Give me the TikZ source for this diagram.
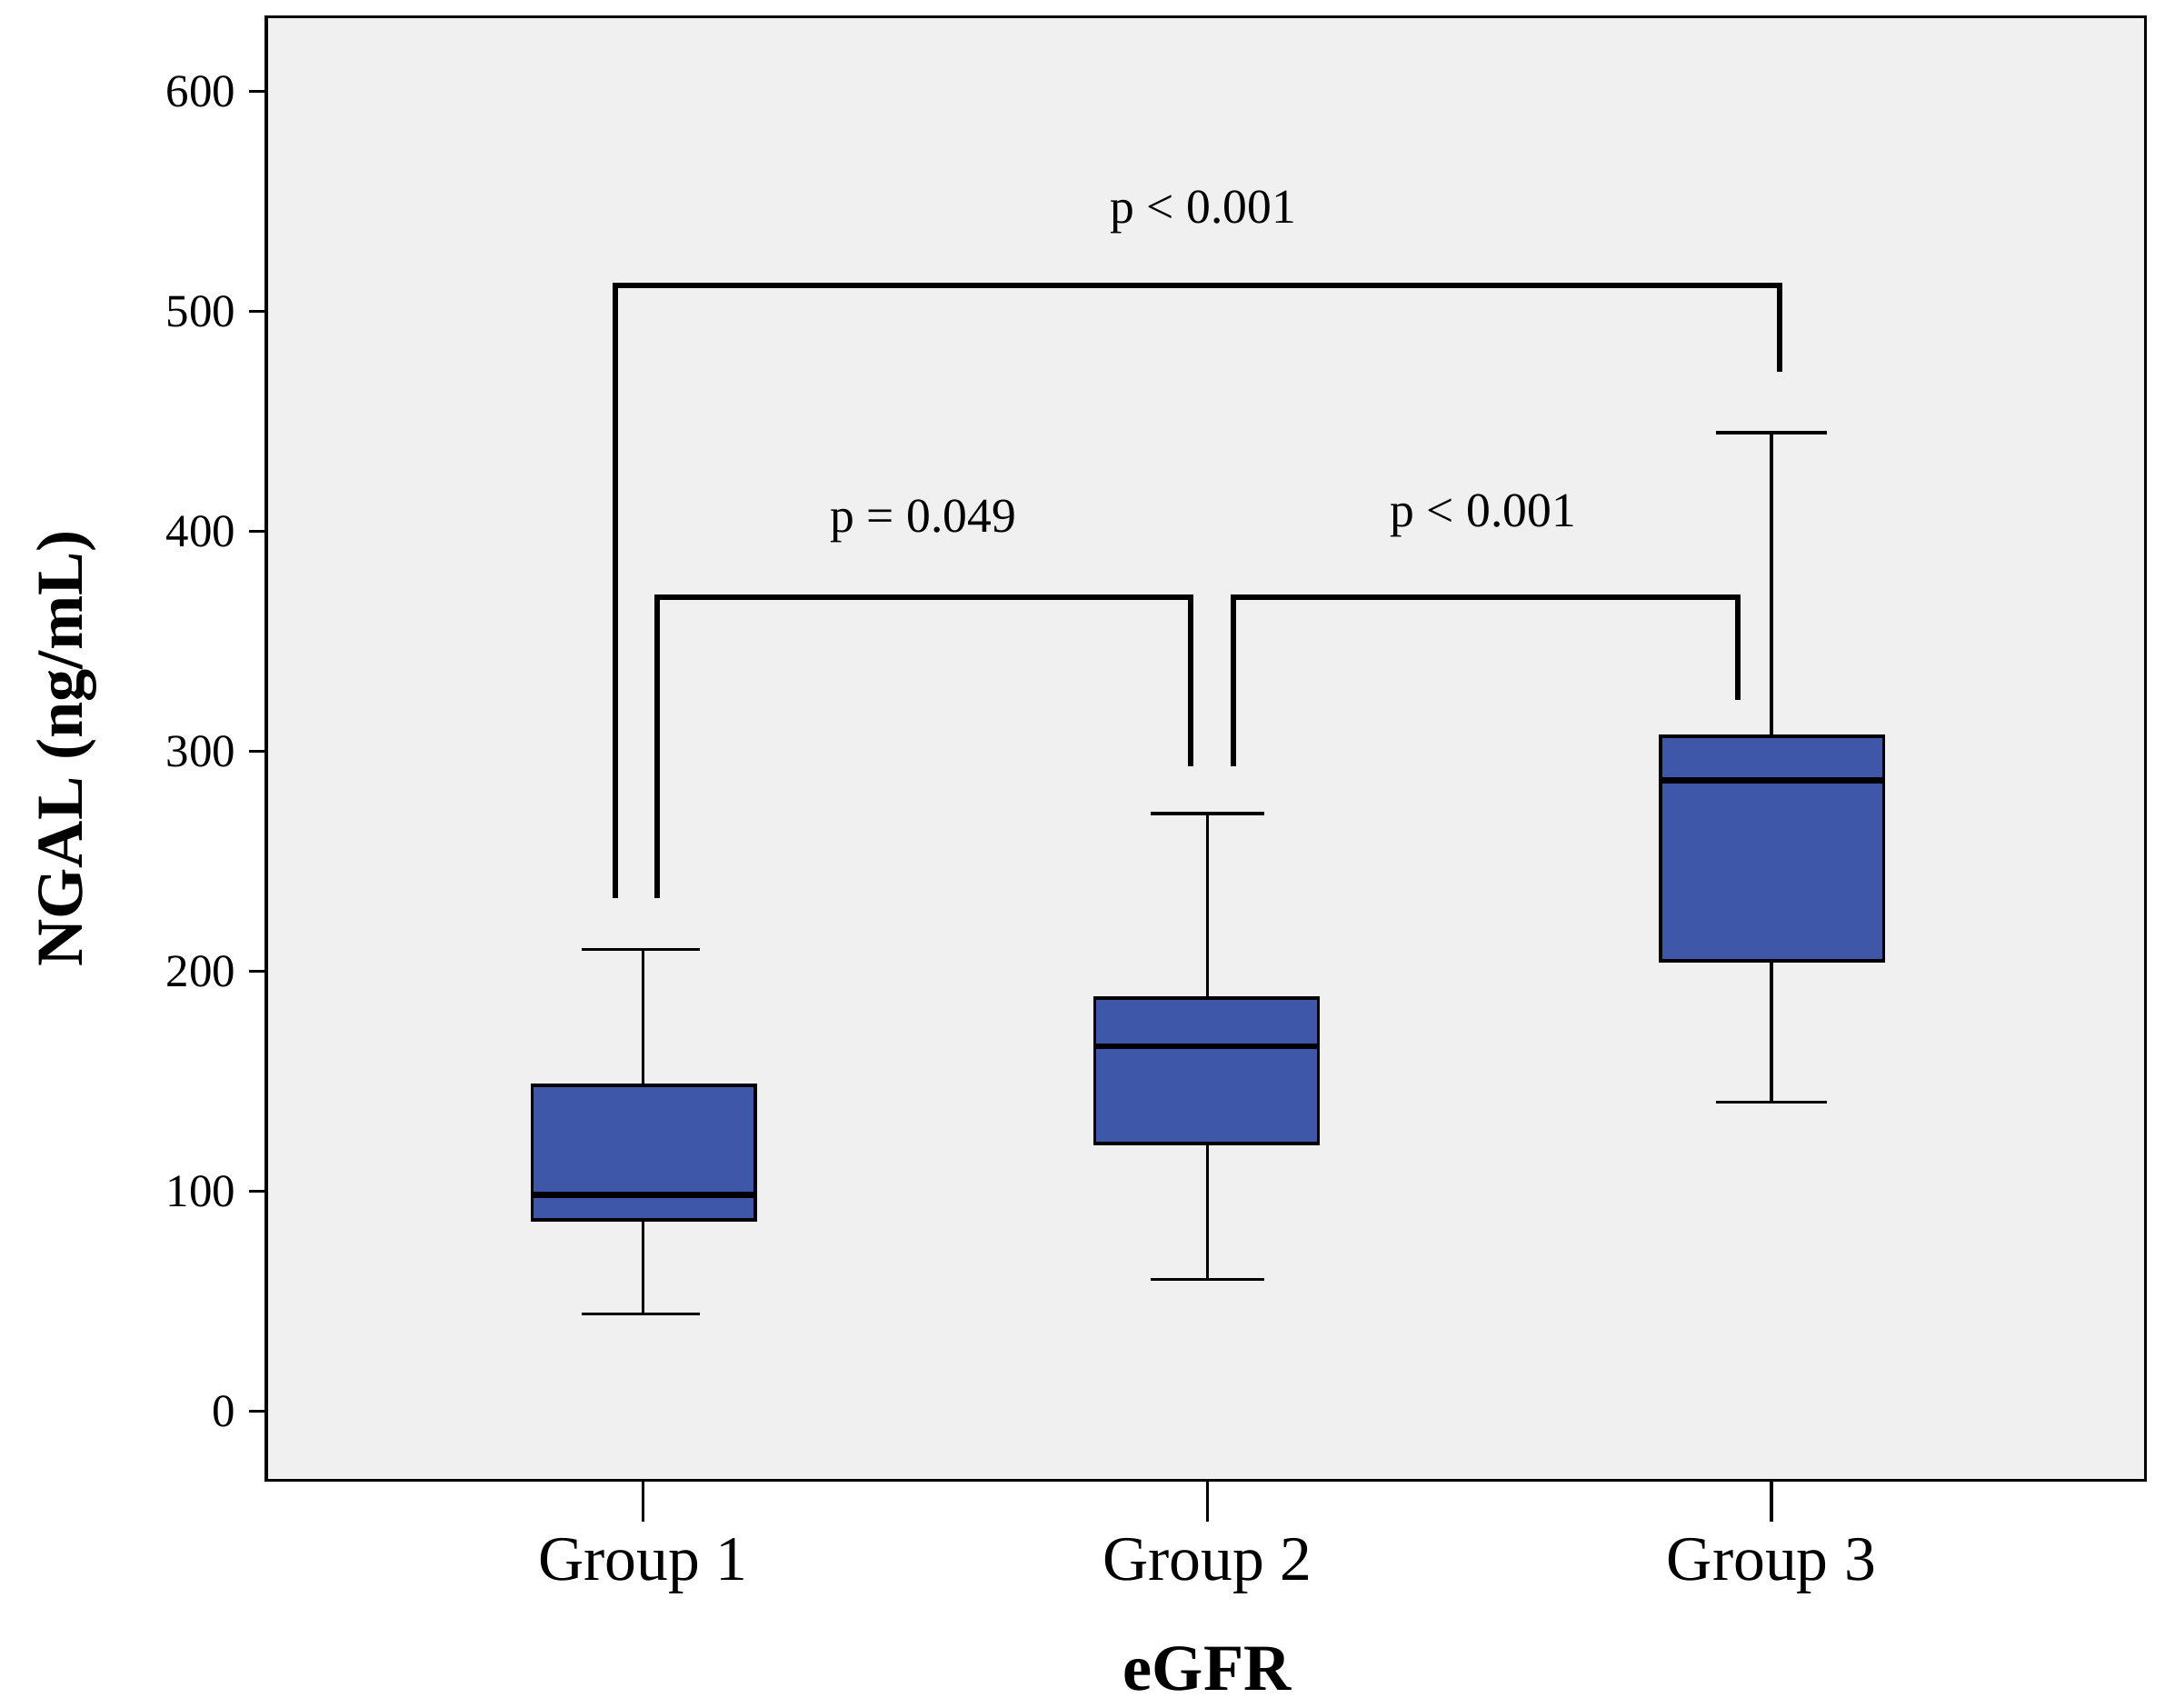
\documentclass[tikz,border=0pt]{standalone}
\usepackage{fontspec}
\setmainfont{Liberation Serif}
\definecolor{bg}{HTML}{F0F0F0}
\definecolor{boxc}{HTML}{3F57A8}
\begin{document}
\begin{tikzpicture}[x=0.02cm,y=-0.02cm,
  bx/.style={draw=black,line width=1.3pt,fill=boxc},
  wl/.style={line width=1.3pt},
  br/.style={line width=2.3pt},
  tl/.style={font=\fontsize{19}{22}\selectfont,anchor=east},
  pl/.style={font=\fontsize{20}{24}\selectfont}]
\useasboundingbox (0,0) rectangle (1562,1232);
\draw[fill=bg,line width=1.3pt] (192,12) rectangle (1548,1068);
\foreach \v [count=\i from 0] in {0,100,200,300,400,500,600}{
  \pgfmathsetmacro{\yy}{1018-158.7*\i}
  \draw[wl] (180,\yy) -- (192,\yy);
  \node[tl] at (176,\yy) {\v};
}
\foreach \xx/\g in {464/1,871/2,1278/3}{
  \draw[wl] (\xx,1068) -- (\xx,1098);
  \node[font=\fontsize{26}{30}\selectfont] at (\xx,1130) {Group \g};
}
\node[font=\bfseries\fontsize{27}{32}\selectfont] at (871,1204) {eGFR};
\node[font=\bfseries\fontsize{27}{32}\selectfont,rotate=90] at (48,540) {NGAL (ng/mL)};
% group 1
\draw[wl] (464,948) -- (464,685);
\draw[wl] (420,948) -- (505,948); \draw[wl] (420,685) -- (505,685);
\draw[bx] (384,783) rectangle (545,880);
\draw[line width=2.3pt] (384,862) -- (545,862);
% group 2
\draw[wl] (871,923) -- (871,587);
\draw[wl] (830,923) -- (912,923); \draw[wl] (830,587) -- (912,587);
\draw[bx] (790,720) rectangle (951,825);
\draw[line width=2.3pt] (790,755) -- (951,755);
% group 3
\draw[wl] (1278,795) -- (1278,312);
\draw[wl] (1238,795) -- (1318,795); \draw[wl] (1238,312) -- (1318,312);
\draw[bx] (1198,531) rectangle (1359,693);
\draw[line width=2.3pt] (1198,563) -- (1359,563);
% brackets
\coordinate (a1) at (444,648); \coordinate (a2) at (1284,268);
\draw[br] (a1) |- (1284,206) -- (a2);
\node[pl] at (868,153) {p < 0.001};
\coordinate (b1) at (474,648); \coordinate (b2) at (859,553);
\draw[br] (b1) |- (859,431) -- (b2);
\node[pl] at (666,376) {p = 0.049};
\coordinate (c1) at (890,553); \coordinate (c2) at (1254,505);
\draw[br] (c1) |- (1254,431) -- (c2);
\node[pl] at (1070,372) {p < 0.001};
\end{tikzpicture}
\end{document}
